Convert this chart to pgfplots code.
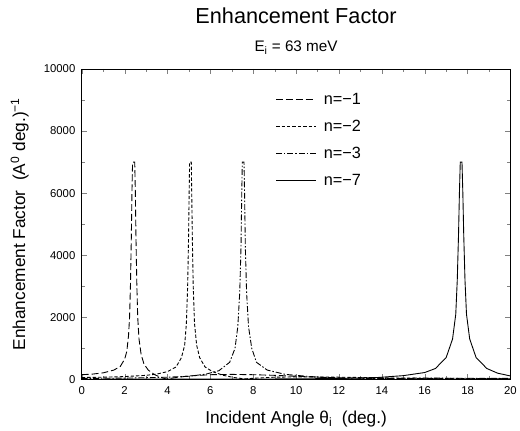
\documentclass[border=0pt]{standalone}
\usepackage{fontspec}
\setmainfont{Liberation Sans}
\usepackage{pgfplots}
\pgfplotsset{compat=1.18}
\begin{document}
\begin{tikzpicture}
\begin{axis}[
  scale only axis, width=435pt, height=315pt,
  xmin=0, xmax=20, ymin=0, ymax=10000,
  xtick={0,2,...,20}, ytick={0,2000,...,10000},
  minor x tick num=1, minor y tick num=1,
  tick align=inside, major tick length=5pt, minor tick length=3pt,
  scaled y ticks=false,
  /pgf/number format/1000 sep={},
  /pgf/number format/assume math mode=true,
  tick label style={font=\fontsize{11.5}{13}\selectfont},
  xticklabel style={yshift=-4pt},
  yticklabel style={xshift=-3pt},
  axis line style={line width=0.6pt},
  clip=false,
  legend style={draw=none, fill=none, at={(0.445,0.935)}, anchor=north west,
    font=\fontsize{16.5}{18}\selectfont, row sep=10.5pt,
    /tikz/every odd column/.append style={column sep=6pt}},
  legend cell align=left,
  legend image code/.code={\draw[#1] (0pt,0pt) -- (40pt,0pt);},
]
% n=-1
\addplot[black, line width=0.9pt, dash pattern=on 7pt off 3pt] coordinates {
(0,150) (0.5,170) (1,210) (1.5,300) (1.8,420) (2.0,650) (2.1,900) (2.18,1400)
(2.23,2000) (2.27,3000) (2.31,4500) (2.34,6000) (2.37,7000) (2.47,7000)
(2.50,6000) (2.53,4500) (2.57,3000) (2.61,2000) (2.67,1300) (2.77,800)
(2.9,500) (3.1,300) (3.4,150) (3.7,60) (3.95,10) (4.3,50) (5,110) (6,150)
(7,160) (8,150) (9,130) (10,100) (11,70) (12,50) (14,30) (17,20) (20,15)};
\addlegendentry{n=−1}
% n=-2
\addplot[black, line width=0.9pt, dash pattern=on 3.5pt off 2pt] coordinates {
(0,60) (1,70) (2,90) (3,130) (3.5,170) (4,250) (4.4,400) (4.65,700)
(4.8,1100) (4.88,1800) (4.94,3000) (4.98,4500) (5.01,6000) (5.03,7000)
(5.11,7000) (5.13,6000) (5.16,4500) (5.20,3000) (5.26,1800) (5.36,1100)
(5.5,700) (5.75,400) (6.1,250) (6.6,130) (7.1,60) (7.6,15) (8.1,40)
(9,70) (10,80) (12,70) (15,40) (20,20)};
\addlegendentry{n=−2}
% n=-3
\addplot[black, line width=0.9pt, dash pattern=on 6pt off 2pt on 1.5pt off 2pt] coordinates {
(0,30) (2,40) (4,70) (5,100) (5.8,170) (6.4,280) (6.9,550) (7.15,1000)
(7.28,1700) (7.37,2800) (7.43,4300) (7.46,5800) (7.49,7000) (7.57,7000)
(7.60,5800) (7.63,4300) (7.69,2800) (7.78,1700) (7.93,1000) (8.15,550)
(8.65,300) (9.5,160) (10.5,100) (11.5,50) (12.5,15) (13.5,30) (16,40) (20,30)};
\addlegendentry{n=−3}
% n=-7
\addplot[black, line width=0.9pt] coordinates {
(0,5) (5,8) (10,15) (12,30) (13.8,60) (15,120) (16,220) (16.5,350) (17,700)
(17.3,1300) (17.45,2100) (17.52,3200) (17.58,4700) (17.62,6000) (17.66,7000)
(17.74,7000) (17.78,6000) (17.82,4700) (17.88,3200) (17.95,2100) (18.1,1300)
(18.4,700) (18.9,350) (19.4,200) (20,110)};
\addlegendentry{n=−7}
% titles and labels
\node[anchor=base, font=\fontsize{22}{26}\selectfont] at ([yshift=46pt]rel axis cs:0.5,1) {Enhancement Factor};
\node[anchor=base, font=\fontsize{15.5}{18}\selectfont] at ([yshift=18pt]rel axis cs:0.5,1) {E\textsubscript{i} = 63 meV};
\node[font=\fontsize{17.5}{20}\selectfont] at ([yshift=-40pt]rel axis cs:0.5,0) {Incident Angle θ\textsubscript{i}\ \ (deg.)};
\node[rotate=90, font=\fontsize{17.5}{20}\selectfont] at ([xshift=-63pt]rel axis cs:0,0.5) {Enhancement Factor\ \ (A\textsuperscript{0} deg.)\textsuperscript{−1}};
\end{axis}
\path[use as bounding box] ([shift={(-83pt,-49pt)}]current axis.south west) rectangle ([shift={(2pt,70pt)}]current axis.north east);
\end{tikzpicture}
\end{document}
